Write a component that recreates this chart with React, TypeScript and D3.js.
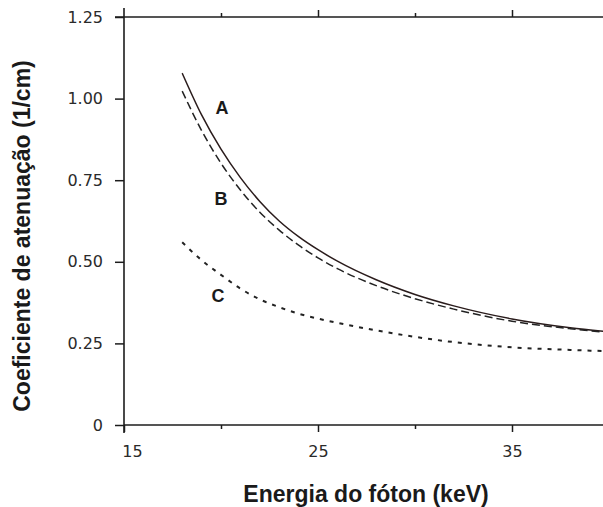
import React, { useRef, useEffect } from 'react'
import * as d3 from 'd3'

// values
const energies = [18, 19, 20, 21, 22, 23, 24, 25, 26, 28, 30, 32, 35, 38, 40]
const seriesA = [1.078, 0.95, 0.845, 0.758, 0.685, 0.625, 0.577, 0.537, 0.502, 0.445, 0.4, 0.365, 0.325, 0.298, 0.285]
const seriesB = [1.023, 0.902, 0.802, 0.72, 0.652, 0.597, 0.551, 0.512, 0.479, 0.427, 0.387, 0.355, 0.318, 0.295, 0.283]
const seriesC = [0.56, 0.505, 0.46, 0.418, 0.385, 0.361, 0.341, 0.326, 0.313, 0.29, 0.27, 0.254, 0.238, 0.23, 0.226]

const curveNames = ['A', 'B', 'C']
const labelEnergy = [20.05, 20.0, 19.85]
const labelValue = [0.97, 0.692, 0.396]

const yTicks = [0, 0.25, 0.5, 0.75, 1.0, 1.25]
const xMajorTicks = [15, 25, 35]
const xMinorTicks = [20, 30]

const W = 603
const H = 507

export default function App() {
    const svgRef = useRef<SVGSVGElement>(null)

    useEffect(() => {
        const svg = d3.select(svgRef.current)
        svg.selectAll('*').remove()

        const x = d3.scaleLinear().domain([15, 40]).range([124, 609])
        const y = d3.scaleLinear().domain([0, 1.25]).range([425, 17])
        const ink = '#1c1c1c'

        // x axis (bottom)
        const bottom = svg.append('g').attr('transform', `translate(0,${y(0)})`)
        bottom.call(d3.axisBottom(x).tickValues(xMajorTicks).tickSize(7).tickFormat(d => String(d)))
        bottom.append('g').call(d3.axisBottom(x).tickValues(xMinorTicks).tickSize(4).tickFormat(() => ''))
        bottom.selectAll('.domain').remove()
        bottom.selectAll('line').attr('stroke', ink).attr('stroke-width', 1.5)
        bottom.selectAll('text')
            .attr('font-family', 'DejaVu Sans, sans-serif')
            .attr('font-size', 16)
            .attr('fill', '#2a2a2a')
            .attr('y', 15)
            .attr('dy', '1.05em')
            .attr('dx', (d: any) => (d === 15 ? 8 : 0))

        // top frame with upward ticks
        const top = svg.append('g').attr('transform', `translate(0,${y(1.25)})`)
        top.call(d3.axisTop(x).tickValues(xMajorTicks.slice(1)).tickSize(7).tickFormat(() => ''))
        top.append('g').call(d3.axisTop(x).tickValues(xMinorTicks).tickSize(4).tickFormat(() => ''))
        top.selectAll('.domain').remove()
        top.selectAll('line').attr('stroke', ink).attr('stroke-width', 1.5)

        // y axis
        const left = svg.append('g').attr('transform', `translate(${x(15)},0)`)
        left.call(d3.axisLeft(y).tickValues(yTicks).tickSize(9).tickFormat(d => (d === 0 ? '0' : (d as number).toFixed(2))))
        left.selectAll('.domain').remove()
        left.selectAll('line').attr('stroke', ink).attr('stroke-width', 1.5)
        left.selectAll('text')
            .attr('font-family', 'DejaVu Sans, sans-serif')
            .attr('font-size', 16)
            .attr('fill', '#2a2a2a')
            .attr('x', -21)

        // axis lines
        svg.append('line')
            .attr('x1', x(15)).attr('x2', W).attr('y1', y(0)).attr('y2', y(0))
            .attr('stroke', ink).attr('stroke-width', 1.6)
        svg.append('line')
            .attr('x1', x(15) - 9).attr('x2', W).attr('y1', y(1.25)).attr('y2', y(1.25))
            .attr('stroke', ink).attr('stroke-width', 1.6)
        svg.append('line')
            .attr('x1', x(15)).attr('x2', x(15)).attr('y1', y(1.25) - 9).attr('y2', y(0) + 8)
            .attr('stroke', ink).attr('stroke-width', 1.6)

        // curves
        const line = d3.line<number>()
            .x((d, i) => x(energies[i]))
            .y(d => y(d))
            .curve(d3.curveMonotoneX)

        const series = [seriesA, seriesB, seriesC]
        const dashes = ['none', '8,4', '4,6']
        const widths = [1.5, 1.5, 2]
        series.forEach((s, i) => {
            svg.append('path')
                .attr('d', line(s))
                .attr('fill', 'none')
                .attr('stroke', i === 0 ? '#2a1c1c' : '#222')
                .attr('stroke-width', widths[i])
                .attr('stroke-dasharray', dashes[i])
        })

        // curve names
        curveNames.forEach((n, i) => {
            svg.append('text')
                .attr('x', x(labelEnergy[i]))
                .attr('y', y(labelValue[i]))
                .attr('text-anchor', 'middle')
                .attr('dominant-baseline', 'central')
                .attr('font-family', 'Liberation Sans, Arial, sans-serif')
                .attr('font-weight', 'bold')
                .attr('font-size', 18)
                .attr('fill', '#1a1a1a')
                .text(n)
        })

        // titles
        svg.append('text')
            .attr('x', 366)
            .attr('y', 502)
            .attr('text-anchor', 'middle')
            .attr('font-family', 'Liberation Sans, Arial, sans-serif')
            .attr('font-weight', 'bold')
            .attr('font-size', 23)
            .attr('fill', '#1a1a1a')
            .text('Energia do fóton (keV)')

        svg.append('text')
            .attr('transform', 'translate(30,236) rotate(-90)')
            .attr('text-anchor', 'middle')
            .attr('font-family', 'Liberation Sans, Arial, sans-serif')
            .attr('font-weight', 'bold')
            .attr('font-size', 23)
            .attr('fill', '#1a1a1a')
            .text('Coeficiente de atenuação (1/cm)')
    }, [])

    return (
        <svg
            ref={svgRef}
            width={W}
            height={H}
            style={{ position: 'absolute', left: 0, top: 0, background: '#fff' }}
        />
    )
}
